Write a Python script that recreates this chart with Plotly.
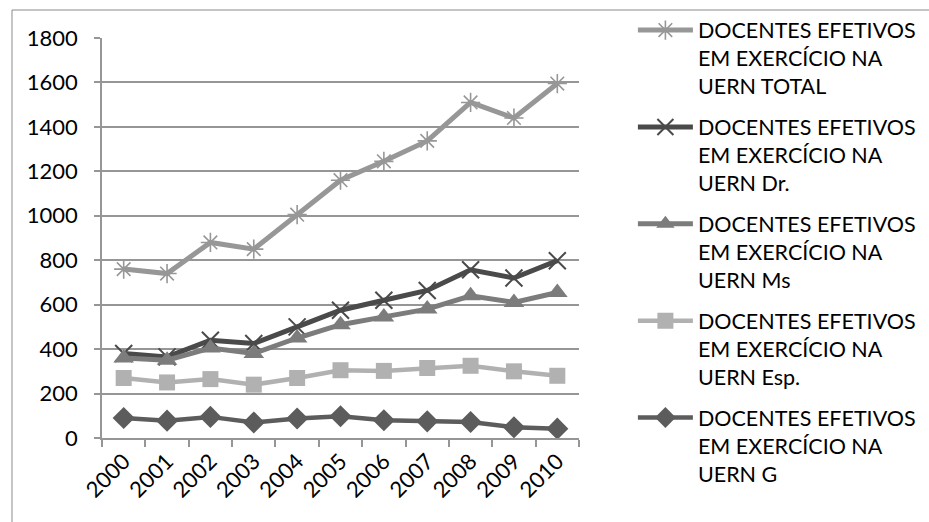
import plotly.graph_objects as go

# Years on the category axis
years = ["2000", "2001", "2002", "2003", "2004", "2005",
         "2006", "2007", "2008", "2009", "2010"]

# Number of tenured lecturers at UERN, by qualification
total = [760, 740, 880, 850, 1005, 1160, 1245, 1337, 1510, 1440, 1595]
doutores = [380, 365, 440, 425, 500, 575, 620, 664, 757, 720, 798]
mestres = [360, 350, 405, 380, 450, 510, 545, 580, 640, 610, 655]
especialistas = [270, 250, 265, 240, 270, 305, 302, 315, 325, 300, 280]
graduados = [90, 78, 95, 70, 88, 98, 80, 75, 72, 48, 42]

# Legend names (wrapped onto three lines)
names = [
    "DOCENTES EFETIVOS<br>EM EXERCÍCIO NA<br>UERN TOTAL",
    "DOCENTES EFETIVOS<br>EM EXERCÍCIO NA<br>UERN Dr.",
    "DOCENTES EFETIVOS<br>EM EXERCÍCIO NA<br>UERN Ms",
    "DOCENTES EFETIVOS<br>EM EXERCÍCIO NA<br>UERN Esp.",
    "DOCENTES EFETIVOS<br>EM EXERCÍCIO NA<br>UERN G",
]

FONT = "Lato, Carlito, Calibri, sans-serif"
GRID = "#969696"

styles = [
    dict(color="#979797", width=5, symbol="asterisk-open", size=16, mline=1.6),
    dict(color="#4a4a4a", width=5, symbol="x-thin-open", size=17, mline=2.0),
    dict(color="#7c7c7c", width=5, symbol="triangle-up", size=18, mline=0),
    dict(color="#b1b1b1", width=4.5, symbol="square", size=16, mline=0),
    dict(color="#5c5c5c", width=4.5, symbol="diamond", size=17, mline=0),
]
series = [total, doutores, mestres, especialistas, graduados]

fig = go.Figure()
for i, (name, values, st) in enumerate(zip(names, series, styles)):
    fig.add_trace(go.Scatter(
        x=years, y=values, name=name, mode="lines+markers",
        legendgroup=f"g{i}",
        line=dict(color=st["color"], width=st["width"]),
        marker=dict(symbol=st["symbol"], size=st["size"], color=st["color"],
                    line=dict(color=st["color"], width=st["mline"])),
    ))

# Outer chart frame (runs past the right and bottom edges)
fig.add_shape(type="rect", xref="paper", yref="paper",
              x0=-0.1887, x1=1.8, y0=-0.3, y1=1.07,
              line=dict(color="#8a8a8a", width=1), fillcolor="rgba(0,0,0,0)",
              layer="below")

fig.update_layout(
    width=929, height=522,
    margin=dict(l=102, r=350, t=38, b=84, autoexpand=False),
    paper_bgcolor="white", plot_bgcolor="white",
    font=dict(family=FONT, size=22, color="#000000"),
    showlegend=True,
    legend=dict(
        x=1.113, xanchor="left", y=1.071, yanchor="top",
        font=dict(family=FONT, size=21.5, color="#000000"),
        itemwidth=55, valign="top", tracegroupgap=10,
        maxheight=600,
        bgcolor="rgba(0,0,0,0)",
    ),
    xaxis=dict(
        type="category", range=[-0.5, 10.5],
        showline=True, linecolor=GRID, linewidth=1.5,
        ticks="outside", tickson="boundaries", ticklen=7, tickcolor=GRID,
        tickwidth=1.5, tickangle=-45, showgrid=False,
        tickfont=dict(family=FONT, size=22, color="#000000"),
    ),
    yaxis=dict(
        range=[0, 1800], dtick=200, tick0=0,
        showline=True, linecolor=GRID, linewidth=1.5,
        ticks="outside", ticklen=6, tickcolor=GRID, tickwidth=1.5,
        showgrid=True, gridcolor=GRID, gridwidth=1.5,
        zeroline=False, ticklabelstandoff=12,
        tickfont=dict(family=FONT, size=22, color="#000000"),
    ),
)

fig.write_html("out.html")
